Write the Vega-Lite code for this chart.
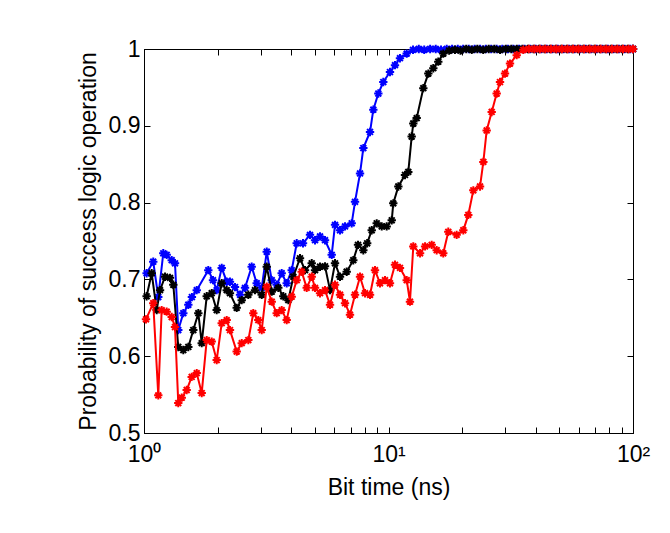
{
  "$schema": "https://vega.github.io/schema/vega-lite/v6.json",
  "width": 489,
  "height": 384,
  "autosize": "none",
  "padding": {"left": 144, "top": 49, "right": 37, "bottom": 100},
  "background": "white",
  "datasets": {
    "blue": [
      {"x":1.025,"y":0.708},{"x":1.091,"y":0.723},{"x":1.144,"y":0.677},{"x":1.199,"y":0.734},{"x":1.238,"y":0.732},{"x":1.298,"y":0.725},{"x":1.339,"y":0.721},{"x":1.381,"y":0.634},{"x":1.448,"y":0.656},{"x":1.518,"y":0.667},{"x":1.57,"y":0.677},{"x":1.643,"y":0.686},{"x":1.832,"y":0.712},{"x":1.915,"y":0.699},{"x":1.983,"y":0.686},{"x":2.079,"y":0.715},{"x":2.179,"y":0.697},{"x":2.247,"y":0.697},{"x":2.356,"y":0.69},{"x":2.47,"y":0.68},{"x":2.589,"y":0.689},{"x":2.757,"y":0.7165},{"x":2.89,"y":0.695},{"x":3.03,"y":0.689},{"x":3.177,"y":0.736},{"x":3.33,"y":0.699},{"x":3.489,"y":0.693},{"x":3.657,"y":0.708},{"x":3.834,"y":0.695},{"x":4.019,"y":0.712},{"x":4.213,"y":0.747},{"x":4.47,"y":0.747},{"x":4.775,"y":0.758},{"x":5.006,"y":0.751},{"x":5.247,"y":0.756},{"x":5.5,"y":0.751},{"x":5.858,"y":0.732},{"x":6.043,"y":0.771},{"x":6.334,"y":0.764},{"x":6.64,"y":0.769},{"x":7.071,"y":0.773},{"x":7.295,"y":0.801},{"x":7.648,"y":0.838},{"x":7.89,"y":0.871},{"x":8.403,"y":0.892},{"x":8.668,"y":0.921},{"x":9.086,"y":0.942},{"x":9.522,"y":0.957},{"x":10.14,"y":0.97},{"x":10.63,"y":0.979},{"x":11.14,"y":0.988},{"x":11.87,"y":0.994},{"x":12.6,"y":0.999},
      {"x":13.3,"y":1.0},{"x":14,"y":0.999},{"x":14.8,"y":1.0},{"x":15.6,"y":1.0},{"x":16.4,"y":0.999},{"x":17.3,"y":1.0},{"x":18.2,"y":1.0},{"x":19.2,"y":1.0},{"x":20.2,"y":1.0},{"x":21.3,"y":1.0},{"x":22.5,"y":1.0},{"x":23.7,"y":1.0},{"x":25,"y":1.0},{"x":26.3,"y":1.0},{"x":27.7,"y":1.0},{"x":29.2,"y":1.0},{"x":30.8,"y":1.0},{"x":32.4,"y":1.0},{"x":34.2,"y":1.0},{"x":36,"y":1.0},{"x":38,"y":1.0},{"x":40,"y":1.0},{"x":42.2,"y":1.0},{"x":44.4,"y":1.0},{"x":46.8,"y":1.0},{"x":49.3,"y":1.0},{"x":52,"y":1.0},{"x":54.8,"y":1.0},{"x":57.7,"y":1.0},{"x":60.8,"y":1.0},{"x":64.1,"y":1.0},{"x":67.5,"y":1.0},{"x":71.1,"y":1.0},{"x":75,"y":1.0},{"x":79,"y":1.0},{"x":83.2,"y":1.0},{"x":87.7,"y":1.0},{"x":92.4,"y":1.0},{"x":97.4,"y":1.0},{"x":100,"y":1.0}
    ],
    "black": [
      {"x":1.025,"y":0.678},{"x":1.075,"y":0.708},{"x":1.127,"y":0.66},{"x":1.163,"y":0.686},{"x":1.219,"y":0.7035},{"x":1.277,"y":0.702},{"x":1.318,"y":0.693},{"x":1.381,"y":0.612},{"x":1.448,"y":0.608},{"x":1.518,"y":0.612},{"x":1.591,"y":0.634},{"x":1.668,"y":0.656},{"x":1.722,"y":0.617},{"x":1.805,"y":0.678},{"x":1.892,"y":0.682},{"x":1.983,"y":0.66},{"x":2.079,"y":0.695},{"x":2.179,"y":0.686},{"x":2.247,"y":0.682},{"x":2.394,"y":0.663},{"x":2.51,"y":0.673},{"x":2.671,"y":0.68},{"x":2.844,"y":0.686},{"x":3.03,"y":0.68},{"x":3.177,"y":0.7165},{"x":3.33,"y":0.684},{"x":3.542,"y":0.689},{"x":3.713,"y":0.678},{"x":3.893,"y":0.673},{"x":4.08,"y":0.7035},{"x":4.345,"y":0.7275},{"x":4.555,"y":0.712},{"x":4.853,"y":0.721},{"x":5.006,"y":0.712},{"x":5.247,"y":0.7165},{"x":5.5,"y":0.717},{"x":5.765,"y":0.686},{"x":6.043,"y":0.721},{"x":6.334,"y":0.7035},{"x":6.745,"y":0.71},{"x":7.178,"y":0.725},{"x":7.505,"y":0.745},{"x":7.89,"y":0.738},{"x":8.18,"y":0.747},{"x":8.539,"y":0.764},{"x":8.949,"y":0.773},{"x":9.381,"y":0.769},{"x":9.832,"y":0.769},{"x":10.31,"y":0.777},{"x":10.46,"y":0.799},{"x":10.97,"y":0.821},{"x":11.68,"y":0.836},{"x":12.05,"y":0.84},{"x":12.44,"y":0.886},{"x":12.63,"y":0.903},{"x":13.04,"y":0.91},{"x":13.88,"y":0.949},{"x":14.55,"y":0.968},{"x":15.25,"y":0.975},{"x":15.98,"y":0.9835},{"x":16.75,"y":0.994},
      {"x":17.7,"y":0.998},{"x":18.7,"y":0.999},{"x":19.7,"y":0.998},{"x":20.8,"y":1.0},{"x":21.9,"y":0.999},{"x":23.1,"y":1.0},{"x":24.4,"y":0.999},{"x":25.7,"y":1.0},{"x":27.1,"y":1.0},{"x":28.6,"y":0.999},{"x":30.2,"y":1.0},{"x":31.8,"y":1.0},{"x":33.5,"y":1.0},{"x":35.3,"y":1.0},{"x":37.2,"y":1.0},{"x":39.2,"y":1.0},{"x":41.3,"y":1.0},{"x":43.5,"y":1.0},{"x":45.8,"y":1.0},{"x":48.3,"y":1.0},{"x":50.9,"y":1.0},{"x":53.6,"y":1.0},{"x":56.5,"y":1.0},{"x":59.5,"y":1.0},{"x":62.7,"y":1.0},{"x":66,"y":1.0},{"x":69.6,"y":1.0},{"x":73.3,"y":1.0},{"x":77.2,"y":1.0},{"x":81.4,"y":1.0},{"x":85.7,"y":1.0},{"x":90.3,"y":1.0},{"x":95.2,"y":1.0},{"x":100,"y":1.0}
    ],
    "red": [
      {"x":1.019,"y":0.648},{"x":1.091,"y":0.669},{"x":1.144,"y":0.549},{"x":1.181,"y":0.66},{"x":1.238,"y":0.658},{"x":1.298,"y":0.651},{"x":1.339,"y":0.638},{"x":1.381,"y":0.539},{"x":1.427,"y":0.546},{"x":1.495,"y":0.556},{"x":1.567,"y":0.573},{"x":1.643,"y":0.578},{"x":1.722,"y":0.552},{"x":1.805,"y":0.621},{"x":1.892,"y":0.619},{"x":1.983,"y":0.595},{"x":2.079,"y":0.643},{"x":2.179,"y":0.647},{"x":2.247,"y":0.634},{"x":2.394,"y":0.606},{"x":2.51,"y":0.617},{"x":2.671,"y":0.621},{"x":2.799,"y":0.656},{"x":2.934,"y":0.647},{"x":3.03,"y":0.634},{"x":3.177,"y":0.6905},{"x":3.33,"y":0.671},{"x":3.489,"y":0.656},{"x":3.657,"y":0.66},{"x":3.834,"y":0.647},{"x":4.019,"y":0.6775},{"x":4.213,"y":0.699},{"x":4.416,"y":0.71},{"x":4.628,"y":0.689},{"x":4.853,"y":0.7035},{"x":5.006,"y":0.689},{"x":5.247,"y":0.682},{"x":5.5,"y":0.686},{"x":5.765,"y":0.667},{"x":6.043,"y":0.693},{"x":6.334,"y":0.68},{"x":6.64,"y":0.669},{"x":6.958,"y":0.654},{"x":7.295,"y":0.68},{"x":7.648,"y":0.7035},{"x":8.017,"y":0.682},{"x":8.403,"y":0.68},{"x":8.806,"y":0.712},{"x":9.23,"y":0.695},{"x":9.676,"y":0.699},{"x":10.14,"y":0.695},{"x":10.63,"y":0.719},{"x":11.14,"y":0.715},{"x":11.87,"y":0.699},{"x":12.24,"y":0.671},{"x":12.63,"y":0.743},{"x":13.46,"y":0.734},{"x":14.11,"y":0.743},{"x":15.02,"y":0.745},{"x":15.74,"y":0.738},{"x":16.75,"y":0.734},{"x":17.56,"y":0.762},{"x":19.0,"y":0.758},{"x":20.23,"y":0.764},{"x":21.2,"y":0.784},{"x":22.23,"y":0.816},{"x":23.68,"y":0.821},{"x":24.43,"y":0.853},{"x":25.21,"y":0.894},{"x":26.43,"y":0.918},{"x":27.7,"y":0.942},{"x":28.58,"y":0.957},{"x":29.96,"y":0.968},{"x":31.4,"y":0.981},{"x":33.45,"y":0.992},{"x":35.6,"y":0.999},
      {"x":37.5,"y":1.0},{"x":39.5,"y":1.0},{"x":41.6,"y":1.0},{"x":43.8,"y":1.0},{"x":46.2,"y":1.0},{"x":48.6,"y":1.0},{"x":51.2,"y":1.0},{"x":54,"y":1.0},{"x":56.9,"y":1.0},{"x":59.9,"y":1.0},{"x":63.1,"y":1.0},{"x":66.5,"y":1.0},{"x":70.1,"y":1.0},{"x":73.8,"y":1.0},{"x":77.8,"y":1.0},{"x":82,"y":1.0},{"x":86.4,"y":1.0},{"x":91,"y":1.0},{"x":95.9,"y":1.0},{"x":100,"y":1.0}
    ]
  },
  "layer": [
    {
      "encoding": {
        "x": {"field": "x", "type": "quantitative", "scale": {"type": "log", "domain": [1, 100]},
          "axis": {"orient": "bottom", "title": "Bit time (ns)", "values": [1,2,3,4,5,6,7,8,9,10,20,30,40,50,60,70,80,90,100],
            "labelExpr": "datum.value==1?'10⁰':datum.value==10?'10¹':datum.value==100?'10²':''",
            "labelOverlap": false, "labelFlush": false, "tickSize": -6, "labelPadding": 16, "titlePadding": 10}},
        "y": {"field": "y", "type": "quantitative", "scale": {"domain": [0.5, 1], "nice": false, "zero": false},
          "axis": {"orient": "left", "title": "Probability of success logic operation", "values": [0.5,0.6,0.7,0.8,0.9,1],
            "labelExpr": "datum.value==1?'1':format(datum.value,'.1f')", "labelFlush": false, "tickSize": -6, "labelPadding": 10, "titlePadding": 8}}
      },
      "layer": [
        {"data": {"name": "blue"}, "mark": {"type": "line", "color": "#0000ff", "strokeWidth": 2}},
        {"data": {"name": "blue"}, "mark": {"type": "point", "shape": "M-1,0L1,0M0,-1L0,1M-0.7,-0.7L0.7,0.7M-0.7,0.7L0.7,-0.7", "filled": false, "size": 70, "strokeWidth": 2, "color": "#0000ff", "opacity": 1}},
        {"data": {"name": "black"}, "mark": {"type": "line", "color": "#000000", "strokeWidth": 2}},
        {"data": {"name": "black"}, "mark": {"type": "point", "shape": "M-1,0L1,0M0,-1L0,1M-0.7,-0.7L0.7,0.7M-0.7,0.7L0.7,-0.7", "filled": false, "size": 70, "strokeWidth": 2, "color": "#000000", "opacity": 1}},
        {"data": {"name": "red"}, "mark": {"type": "line", "color": "#ff0000", "strokeWidth": 2}},
        {"data": {"name": "red"}, "mark": {"type": "point", "shape": "M-1,0L1,0M0,-1L0,1M-0.7,-0.7L0.7,0.7M-0.7,0.7L0.7,-0.7", "filled": false, "size": 70, "strokeWidth": 2, "color": "#ff0000", "opacity": 1}}
      ]
    },
    {
      "data": {"name": "red"},
      "mark": {"type": "point", "opacity": 0},
      "encoding": {
        "x": {"field": "x", "type": "quantitative", "scale": {"type": "log", "domain": [1, 100]},
          "axis": {"orient": "top", "title": null, "labels": false, "values": [1,2,3,4,5,6,7,8,9,10,20,30,40,50,60,70,80,90,100], "tickSize": -6}},
        "y": {"field": "y", "type": "quantitative", "scale": {"domain": [0.5, 1], "nice": false, "zero": false},
          "axis": {"orient": "right", "title": null, "labels": false, "values": [0.5,0.6,0.7,0.8,0.9,1], "tickSize": -6}}
      }
    }
  ],
  "resolve": {"axis": {"x": "independent", "y": "independent"}},
  "config": {
    "view": {"stroke": "#000000", "strokeWidth": 1},
    "axis": {
      "grid": false, "domainColor": "#000000", "domainWidth": 1, "tickColor": "#000000", "tickWidth": 1,
      "labelColor": "#000000", "titleColor": "#000000",
      "labelFont": "Liberation Sans", "titleFont": "Liberation Sans",
      "labelFontSize": 23, "titleFontSize": 23, "titleFontWeight": "normal"
    }
  }
}
